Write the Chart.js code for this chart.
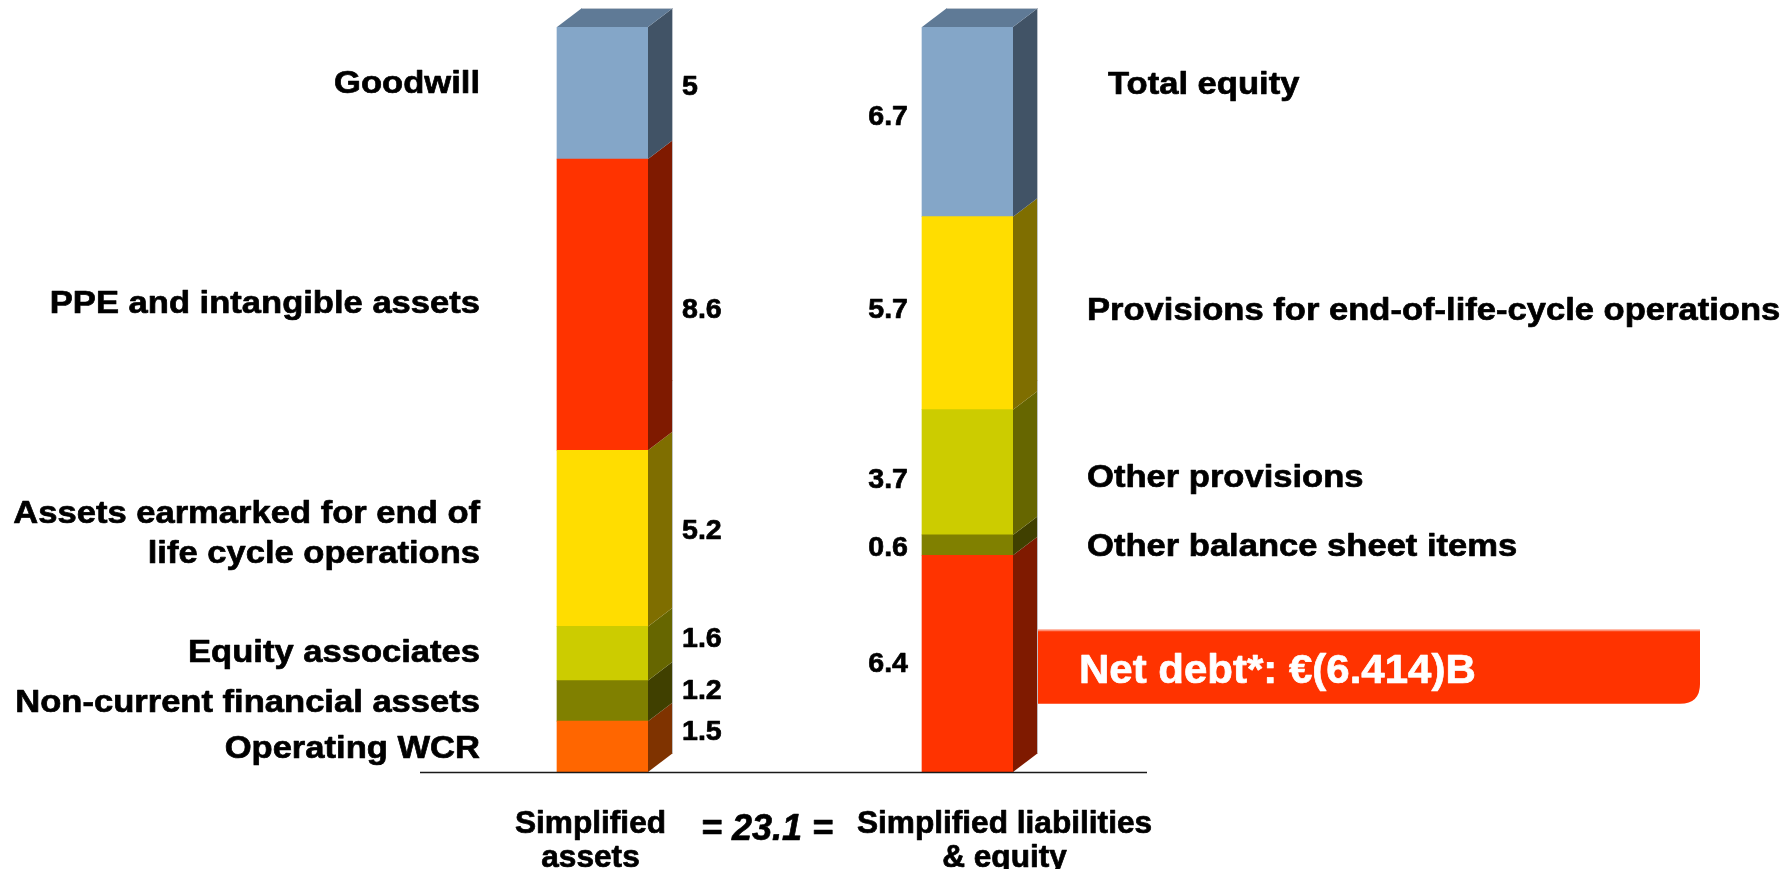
<!DOCTYPE html>
<html>
<head>
<meta charset="utf-8">
<script src="https://cdn.jsdelivr.net/npm/chart.js@4.4.1/dist/chart.umd.min.js"></script>
<style>
  html, body { margin: 0; padding: 0; background: #ffffff; overflow: hidden; }
  #c { display: block; }
</style>
</head>
<body>
<canvas id="c" width="1789" height="869"></canvas>
<script>
// Simplified balance sheet, in € billions
const columns = ['Simplified\nassets', 'Simplified liabilities\n& equity'];

const assetItems = ['Operating WCR', 'Non-current financial assets', 'Equity associates',
  'Assets earmarked for end of\nlife cycle operations', 'PPE and intangible assets', 'Goodwill'];
const assetValues = [1.5, 1.2, 1.6, 5.2, 8.6, 5];

const liabilityItems = ['Net debt', 'Other balance sheet items', 'Other provisions',
  'Provisions for end-of-life-cycle operations', 'Total equity'];
const liabilityValues = [6.4, 0.6, 3.7, 5.7, 6.7];

const balanceTotal = 23.1;
const netDebtText = 'Net debt*: €(6.414)B';

// Colours (front face, shaded side face)
const assetColors = ['#FF6600', '#808000', '#CCCC00', '#FFDD00', '#FF3300', '#84A6C8'];
const assetSides  = ['#7F3300', '#404000', '#666600', '#7F6E00', '#7F1A00', '#415366'];
const liabilityColors = ['#FF3300', '#808000', '#CCCC00', '#FFDD00', '#84A6C8'];
const liabilitySides  = ['#7F1A00', '#404000', '#666600', '#7F6E00', '#415366'];
const topFace = '#5F7A96';

// Axis is cut above 22 so the top blocks are shown shortened
const axisMax = 22;

// Label nudges (px) relative to the middle of the visible block
const assetLabelDy = [3, 2, 0, -4.5, -1, -9];
const assetValueDy = [-14.5, -10, -14, -7, 5.5, -5.5];
const liabilityLabelDy = [0, 2, 6, -2, -36.5];
const liabilityLabelDx = [0, 0, 0, 0, 21];
const liabilityValueDy = [0.5, 3.5, 8, -3, -5];

const DEPTH_X = 25, DEPTH_Y = 19;
const FONT = '"Liberation Sans", Arial, Helvetica, sans-serif';

const datasets = [];
assetValues.forEach((v, i) => datasets.push({
  label: assetItems[i], data: [v, null], backgroundColor: assetColors[i],
  sideColor: assetSides[i], stack: 's', clip: 0, group: 0, idx: i
}));
liabilityValues.forEach((v, i) => datasets.push({
  label: liabilityItems[i], data: [null, v], backgroundColor: liabilityColors[i],
  sideColor: liabilitySides[i], stack: 's', clip: 0, group: 1, idx: i
}));

// Heavy sans text with optional horizontal stretch
function drawText(ctx, text, x, y, o) {
  ctx.save();
  ctx.font = `${o.italic ? 'italic ' : ''}bold ${o.size}px ${FONT}`;
  ctx.fillStyle = o.color || '#000000';
  ctx.strokeStyle = o.color || '#000000';
  ctx.lineWidth = 0.7;
  ctx.lineJoin = 'round';
  ctx.textAlign = o.align || 'left';
  ctx.textBaseline = 'middle';
  ctx.translate(x, y);
  ctx.scale(o.sx || 1, 1);
  ctx.fillText(text, 0, 0);
  ctx.strokeText(text, 0, 0);
  ctx.restore();
}

function drawLines(ctx, text, x, y, gap, o) {
  const lines = text.split('\n');
  const start = y - (lines.length - 1) * gap / 2;
  lines.forEach((ln, k) => drawText(ctx, ln, x, start + k * gap, o));
}

// Segment geometry, clamped to the plotting area
function segments(chart) {
  const area = chart.chartArea;
  const out = [];
  chart.data.datasets.forEach((ds, di) => {
    const meta = chart.getDatasetMeta(di);
    meta.data.forEach((el, j) => {
      if (ds.data[j] == null) return;
      const p = el.getProps(['x', 'y', 'base', 'width'], true);
      const top = Math.max(Math.min(p.y, p.base), area.top);
      const bottom = Math.min(Math.max(p.y, p.base), area.bottom);
      out.push({ ds, x0: p.x - p.width / 2, x1: p.x + p.width / 2, cx: p.x, top, bottom,
                 mid: (top + bottom) / 2 });
    });
  });
  return out;
}

const blockPlugin = {
  id: 'blocks',
  afterDatasetsDraw(chart) {
    const ctx = chart.ctx;
    const area = chart.chartArea;
    const segs = segments(chart);

    // side faces
    segs.forEach(s => {
      ctx.beginPath();
      ctx.moveTo(s.x1, s.bottom);
      ctx.lineTo(s.x1 + DEPTH_X, s.bottom - DEPTH_Y);
      ctx.lineTo(s.x1 + DEPTH_X, s.top - DEPTH_Y);
      ctx.lineTo(s.x1, s.top);
      ctx.closePath();
      ctx.fillStyle = s.ds.sideColor;
      ctx.fill();
    });

    // top face on each column
    [0, 1].forEach(g => {
      const col = segs.filter(s => s.ds.group === g);
      const t = col.reduce((a, b) => (b.top < a.top ? b : a));
      const bot = col.reduce((a, b) => (b.bottom > a.bottom ? b : a)).bottom;
      ctx.beginPath();
      ctx.moveTo(t.x0, t.top);
      ctx.lineTo(t.x0 + DEPTH_X, t.top - DEPTH_Y);
      ctx.lineTo(t.x1 + DEPTH_X, t.top - DEPTH_Y);
      ctx.lineTo(t.x1, t.top);
      ctx.closePath();
      ctx.fillStyle = topFace;
      ctx.fill();
      // light outer edge
      ctx.beginPath();
      ctx.moveTo(t.x0 + DEPTH_X, t.top - DEPTH_Y + 0.5);
      ctx.lineTo(t.x1 + DEPTH_X - 0.5, t.top - DEPTH_Y + 0.5);
      ctx.lineTo(t.x1 + DEPTH_X - 0.5, bot - DEPTH_Y);
      ctx.strokeStyle = 'rgba(200,205,212,0.9)';
      ctx.lineWidth = 1;
      ctx.stroke();
    });

    // baseline
    const y0 = chart.scales.y.getPixelForValue(0);
    ctx.beginPath();
    ctx.moveTo(area.left, y0 + 0.5);
    ctx.lineTo(area.right - 3, y0 + 0.5);
    ctx.strokeStyle = '#1a1a1a';
    ctx.lineWidth = 1.6;
    ctx.stroke();

    // net debt callout
    const nd = segs.find(s => s.ds.group === 1 && s.ds.idx === 0);
    const bx0 = nd.x1 + DEPTH_X, bx1 = 1700, by0 = nd.mid + 3 - 37, by1 = nd.mid + 3 + 37, r = 20;
    ctx.beginPath();
    ctx.moveTo(bx0, by0);
    ctx.lineTo(bx1, by0);
    ctx.lineTo(bx1, by1 - r);
    ctx.quadraticCurveTo(bx1, by1, bx1 - r, by1);
    ctx.lineTo(bx0, by1);
    ctx.closePath();
    ctx.fillStyle = '#FF3300';
    ctx.fill();
    ctx.beginPath();
    ctx.moveTo(bx0, by0 + 0.75);
    ctx.lineTo(bx1, by0 + 0.75);
    ctx.strokeStyle = '#FF8A6E';
    ctx.lineWidth = 1.5;
    ctx.stroke();
    drawText(ctx, netDebtText, nd.x1 + DEPTH_X + 41, nd.mid + 8, { size: 40, sx: 1.05, color: '#FFFFFF' });

    // block labels and values
    const catStyle = { size: 32, sx: 1.08 };
    const valStyle = { size: 28, sx: 1.02 };
    segs.forEach(s => {
      const i = s.ds.idx;
      if (s.ds.group === 0) {
        drawLines(ctx, assetItems[i], s.x0 - 77, s.mid + assetLabelDy[i], 40, { ...catStyle, align: 'right' });
        drawText(ctx, String(assetValues[i]), s.x1 + DEPTH_X + 9, s.mid + assetValueDy[i], { ...valStyle, align: 'left' });
      } else {
        if (i > 0) {
          drawLines(ctx, liabilityItems[i], s.x1 + DEPTH_X + 49 + liabilityLabelDx[i], s.mid + liabilityLabelDy[i], 40, { ...catStyle, align: 'left' });
        }
        drawText(ctx, String(liabilityValues[i]), s.x0 - 14, s.mid + liabilityValueDy[i], { ...valStyle, align: 'right' });
      }
    });

    // column captions
    const xs = chart.scales.x;
    const c0 = xs.getPixelForValue(0), c1 = xs.getPixelForValue(1);
    const capStyle = { size: 31, sx: 1.02, align: 'center' };
    drawLines(ctx, columns[0], c0 - 12, y0 + 69, 34, capStyle);
    drawLines(ctx, columns[1], c1 + 37, y0 + 69, 34, capStyle);
    drawText(ctx, `= ${balanceTotal} =`, (c0 + c1) / 2 - 18, y0 + 58, { size: 36, sx: 1.0, italic: true, align: 'center' });
  }
};

new Chart(document.getElementById('c'), {
  type: 'bar',
  data: { labels: columns, datasets },
  options: {
    responsive: false,
    animation: false,
    layout: { padding: { left: 420, right: 639, top: 27, bottom: 97 } },
    datasets: { bar: { barThickness: 91, borderWidth: 0 } },
    scales: {
      x: { display: false, stacked: true },
      y: { display: false, stacked: true, min: 0, max: axisMax }
    },
    plugins: { legend: { display: false }, tooltip: { enabled: false } }
  },
  plugins: [blockPlugin]
});
</script>
</body>
</html>
